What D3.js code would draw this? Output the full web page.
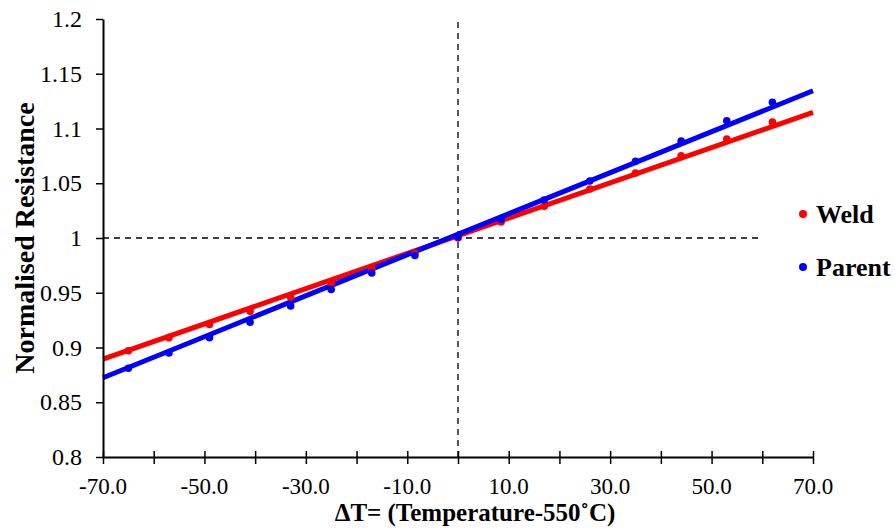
<!DOCTYPE html>
<html><head><meta charset="utf-8">
<script src="https://cdn.jsdelivr.net/npm/d3@7"></script>
<style>body{margin:0;background:#fff}svg{display:block}</style>
</head><body><svg id="c" width="895" height="530"></svg>
<script>
const deltaT = [-65, -57, -49, -41, -33, -25, -17, -8.5, 0, 8.5, 17, 26, 35, 44, 53, 62];
const weld   = [0.897, 0.909, 0.921, 0.933, 0.946, 0.959, 0.972, 0.986, 1.000, 1.0146, 1.029, 1.0447, 1.0594, 1.075, 1.0904, 1.106];
const parent = [0.881, 0.895, 0.909, 0.923, 0.938, 0.953, 0.968, 0.984, 1.001, 1.017, 1.0347, 1.052, 1.070, 1.0886, 1.107, 1.124];
const fitX = [-70, 70];
const weldFit = [0.8893, 1.1148];
const parentFit = [0.8724, 1.1345];
const xTicks = [-70, -60, -50, -40, -30, -20, -10, 0, 10, 20, 30, 40, 50, 60, 70];
const xLabels = ["-70.0", "-50.0", "-30.0", "-10.0", "10.0", "30.0", "50.0", "70.0"];
const yTicks = [0.8, 0.85, 0.9, 0.95, 1.0, 1.05, 1.1, 1.15, 1.2];
const yLabels = ["0.8", "0.85", "0.9", "0.95", "1", "1.05", "1.1", "1.15", "1.2"];
const series = [
  {name: "Weld", values: weld, fit: weldFit, color: "#ff0000"},
  {name: "Parent", values: parent, fit: parentFit, color: "#0000ff"}
];

const svg = d3.select("#c");
const L = 103, R = 813, T = 19, B = 457;
const x = d3.scaleLinear().domain([-70, 70]).range([L, R]);
const y = d3.scaleLinear().domain([0.8, 1.2]).range([B, T]);
const font = "'Liberation Serif', 'Times New Roman', serif";

// dashed reference lines
svg.append("line").attr("x1", x(0)).attr("x2", x(0)).attr("y1", y(1.2) + 3).attr("y2", B)
  .attr("stroke", "#000").attr("stroke-width", 1.3).attr("stroke-dasharray", "6,5");
svg.append("line").attr("x1", x(-70)).attr("x2", x(60)).attr("y1", y(1)).attr("y2", y(1))
  .attr("stroke", "#000").attr("stroke-width", 1.3).attr("stroke-dasharray", "6,5");

// fit lines
series.forEach(s => {
  svg.append("line")
    .attr("x1", x(fitX[0])).attr("y1", y(s.fit[0]))
    .attr("x2", x(fitX[1])).attr("y2", y(s.fit[1]))
    .attr("stroke", s.color).attr("stroke-width", 5);
});
// points
series.forEach(s => {
  svg.append("g").selectAll("circle").data(s.values).join("circle")
    .attr("cx", (d, i) => x(deltaT[i])).attr("cy", d => y(d))
    .attr("r", 3.8).attr("fill", s.color);
});

// y axis
const ya = svg.append("g").attr("transform", `translate(${L},0)`)
  .call(d3.axisLeft(y).tickValues(yTicks).tickSize(7).tickSizeOuter(0)
    .tickFormat((d, i) => yLabels[i]));
ya.select(".domain").attr("stroke", "#000").attr("stroke-width", 2);
ya.selectAll(".tick line").attr("stroke", "#000").attr("stroke-width", 1.5);
ya.selectAll(".tick text").attr("font-family", font).attr("font-size", 24).attr("fill", "#000").attr("x", -21);

// x axis
const xa = svg.append("g").attr("transform", `translate(0,${B})`)
  .call(d3.axisBottom(x).tickValues(xTicks).tickSize(0).tickSizeOuter(0).tickFormat(""));
xa.select(".domain").attr("stroke", "#000").attr("stroke-width", 2);
xa.selectAll(".tick").append("line").attr("y1", -6).attr("y2", 7)
  .attr("stroke", "#000").attr("stroke-width", 1.5);
svg.append("g").selectAll("text").data(xLabels).join("text")
  .attr("x", d => x(+d)).attr("y", 494).attr("text-anchor", "middle")
  .attr("font-family", font).attr("font-size", 23).attr("fill", "#000")
  .text(d => d);

// axis titles
svg.append("text").attr("x", 475).attr("y", 521).attr("text-anchor", "middle")
  .attr("font-family", font).attr("font-size", 25).attr("font-weight", "bold")
  .text("ΔT= (Temperature-550˚C)");
svg.append("text").attr("transform", "translate(34,238) rotate(-90)").attr("text-anchor", "middle")
  .attr("font-family", font).attr("font-size", 28).attr("font-weight", "bold")
  .text("Normalised Resistance");

// legend
const leg = svg.append("g").selectAll("g").data(series).join("g")
  .attr("transform", (d, i) => `translate(803,${214 + i * 53})`);
leg.append("circle").attr("r", 4).attr("fill", d => d.color);
leg.append("text").attr("x", 13).attr("y", 9).attr("font-family", font).attr("font-size", 26)
  .attr("font-weight", "bold").text(d => d.name);
</script></body></html>
